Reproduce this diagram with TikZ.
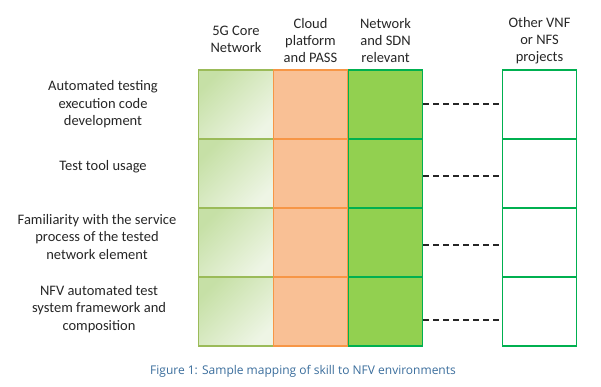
\documentclass[tikz,border=0pt]{standalone}
\usepackage{fontspec}
\setmainfont{Carlito}
\newfontfamily\capfont{Open Sans}
\definecolor{g1a}{HTML}{C6E0A6}
\definecolor{g1b}{HTML}{EEF5E5}
\definecolor{g1d}{HTML}{9BBB59}
\definecolor{orf}{HTML}{F9C095}
\definecolor{ord}{HTML}{F79646}
\definecolor{grf}{HTML}{92D050}
\definecolor{grd}{HTML}{00B050}
\definecolor{capc}{HTML}{3A6D9C}
\begin{document}
\begin{tikzpicture}[x=1pt,y=-1pt,
  cellbase/.style={minimum width=74.5pt,minimum height=69pt,inner sep=0pt,line width=1.4pt},
  cgrad/.style={cellbase,draw=g1d,top color=g1a,bottom color=g1b,shading angle=45},
  corange/.style={cellbase,draw=ord,fill=orf},
  cgreen/.style={cellbase,draw=grd,fill=grf},
  cwhite/.style={cellbase,draw=grd,fill=white},
  hdr/.style={align=center,font=\fontsize{14.5}{17}\selectfont,text=black!85,inner sep=0pt},
  lbl/.style={align=center,font=\fontsize{14.5}{17.5}\selectfont,text=black!85,inner sep=0pt},
  dashln/.style={dash pattern=on 6pt off 4pt,line width=1.4pt,black!85}]
\useasboundingbox (0,0) rectangle (601,386);
% column 1
\node[cgrad] (a1) at (236,104.5) {};
\node[cgrad] (a2) at (236,173.5) {};
\node[cgrad] (a3) at (236,242.5) {};
\node[cgrad] (a4) at (236,311.5) {};
% column 2
\node[corange] (b1) at (310.5,104.5) {};
\node[corange] (b2) at (310.5,173.5) {};
\node[corange] (b3) at (310.5,242.5) {};
\node[corange] (b4) at (310.5,311.5) {};
% column 3
\node[cgreen] (c1) at (385.5,104.5) {};
\node[cgreen] (c2) at (385.5,173.5) {};
\node[cgreen] (c3) at (385.5,242.5) {};
\node[cgreen] (c4) at (385.5,311.5) {};
% column 4
\node[cwhite] (d1) at (539.5,104.5) {};
\node[cwhite] (d2) at (539.5,173.5) {};
\node[cwhite] (d3) at (539.5,242.5) {};
\node[cwhite] (d4) at (539.5,311.5) {};
% dashed connectors
\coordinate (e1) at (423,104);
\coordinate (e2) at (423,176);
\coordinate (e3) at (423,245);
\coordinate (e4) at (423,320);
\draw[dashln] (e1) -- (e1 -| d1.west);
\draw[dashln] (e2) -- (e2 -| d2.west);
\draw[dashln] (e3) -- (e3 -| d3.west);
\draw[dashln] (e4) -- (e4 -| d4.west);
% headers
\node[hdr] (h1) at (236,39) {5G Core\\Network};
\node[hdr] (h2) at (310.5,41) {Cloud\\platform\\and PASS};
\node[hdr] (h3) at (385.5,41) {Network\\and SDN\\relevant};
\node[hdr] (h4) at (539.5,41) {Other VNF\\or NFS\\projects};
% row labels
\node[lbl] (l1) at (103,104.5) {Automated testing\\execution code\\development};
\node[lbl] (l2) at (103,167) {Test tool usage};
\node[lbl] (l3) at (97,237) {Familiarity with the service\\process of the tested\\network element};
\node[lbl] (l4) at (99,309) {NFV automated test\\system framework and\\composition};
% caption
\node[font=\capfont\fontsize{12}{14}\selectfont,text=capc,inner sep=0pt] (cap) at (303,371) {Figure 1: Sample mapping of skill to NFV environments};
\end{tikzpicture}
\end{document}
